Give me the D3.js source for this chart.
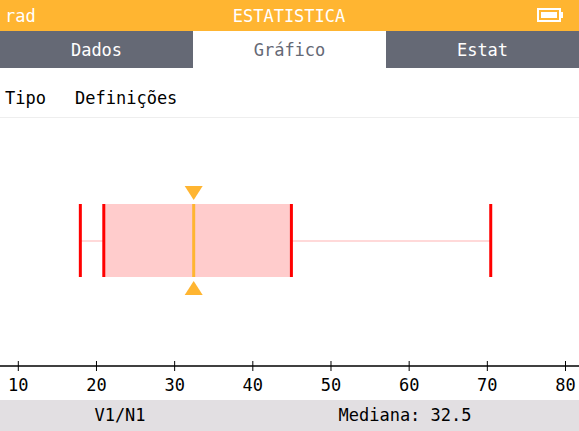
<!DOCTYPE html>
<html><head><meta charset="utf-8">
<script src="https://cdn.jsdelivr.net/npm/d3@7"></script>
<style>body{margin:0;background:#fff}svg{display:block}text{font-family:"DejaVu Sans Mono",monospace}</style>
</head><body><svg id="c" width="579" height="431"></svg>
<script>
const tabs = ["Dados","Gráfico","Estat"];
const menu = ["Tipo","Definições"];
const tickValues = [10,20,30,40,50,60,70,80];
const stats = {min:18, q1:21, median:32.5, q3:45, max:70.5};
const statNames = ["min","q1","median","q3","max"];
const statValues = [18,21,32.5,45,70.5];

const svg = d3.select("#c");
svg.append("rect").attr("width",579).attr("height",31).attr("fill","#ffb531");
svg.append("text").attr("x",5).attr("y",22).attr("fill","#fff").attr("font-size",17).text("rad");
svg.append("text").attr("x",289).attr("y",22).attr("fill","#fff").attr("font-size",17).attr("text-anchor","middle").text("ESTATISTICA");
svg.append("rect").attr("x",538).attr("y",9).attr("width",22).attr("height",12).attr("fill","none").attr("stroke","#fff").attr("stroke-width",2);
svg.append("rect").attr("x",541).attr("y",12).attr("width",16).attr("height",6).attr("fill","#fff");
svg.append("rect").attr("x",561).attr("y",12).attr("width",2).attr("height",6).attr("fill","#fff");
const tw = 579/3;
tabs.forEach((t,i)=>{
  svg.append("rect").attr("x",i*tw).attr("y",31).attr("width",tw).attr("height",37).attr("fill",i===1?"#fff":"#656975");
  svg.append("text").attr("x",i*tw+tw/2).attr("y",56).attr("text-anchor","middle").attr("font-size",17)
    .attr("fill",i===1?"#656975":"#fff").text(t);
});
svg.append("text").attr("x",5).attr("y",104).attr("font-size",17).attr("fill","#000").text(menu[0]);
svg.append("text").attr("x",75).attr("y",104).attr("font-size",17).attr("fill","#000").text(menu[1]);
svg.append("line").attr("x1",0).attr("x2",579).attr("y1",117.5).attr("y2",117.5).attr("stroke","#eeeeee");

const x = d3.scaleLinear().domain([10,80]).range([17.8,565]);
const ay = 366;
svg.append("line").attr("x1",0).attr("x2",579).attr("y1",ay).attr("y2",ay).attr("stroke","#000").attr("stroke-width",1.5);
const axis = d3.axisBottom(x).tickValues(tickValues).tickSize(0).tickPadding(0);
const g = svg.append("g").attr("transform",`translate(0,${ay})`).call(axis);
g.select(".domain").remove();
g.selectAll(".tick line").remove();
g.selectAll(".tick").append("line").attr("y1",-5).attr("y2",5).attr("stroke","#000");
g.selectAll(".tick text").attr("y",25).attr("dy",0).attr("font-size",17).attr("fill","#000")
  .attr("font-family","DejaVu Sans Mono,monospace");

const cy = 241, boxTop = 204, boxBot = 277;
svg.append("line").attr("x1",x(stats.min)).attr("x2",x(stats.max)).attr("y1",cy).attr("y2",cy).attr("stroke","#ffcccc").attr("stroke-width",1.5);
svg.append("rect").attr("x",x(stats.q1)).attr("y",boxTop).attr("width",x(stats.q3)-x(stats.q1)).attr("height",boxBot-boxTop).attr("fill","#ffcccc");
statNames.forEach((n,i)=>{
  svg.append("rect").attr("x",x(statValues[i])-1.5).attr("y",boxTop).attr("width",3).attr("height",boxBot-boxTop)
    .attr("fill",n==="median"?"#ffb531":"#ff0000");
});
const mx = x(stats.median);
svg.append("path").attr("d",`M${mx-9},186 L${mx+9},186 L${mx},200 Z`).attr("fill","#ffb531");
svg.append("path").attr("d",`M${mx-9},295 L${mx+9},295 L${mx},281 Z`).attr("fill","#ffb531");

svg.append("rect").attr("y",400).attr("width",579).attr("height",31).attr("fill","#e2dfe2");
svg.append("text").attr("x",120).attr("y",421).attr("text-anchor","middle").attr("font-size",17).text("V1/N1");
svg.append("text").attr("x",405).attr("y",421).attr("text-anchor","middle").attr("font-size",17).text("Mediana: "+stats.median);
</script></body></html>
